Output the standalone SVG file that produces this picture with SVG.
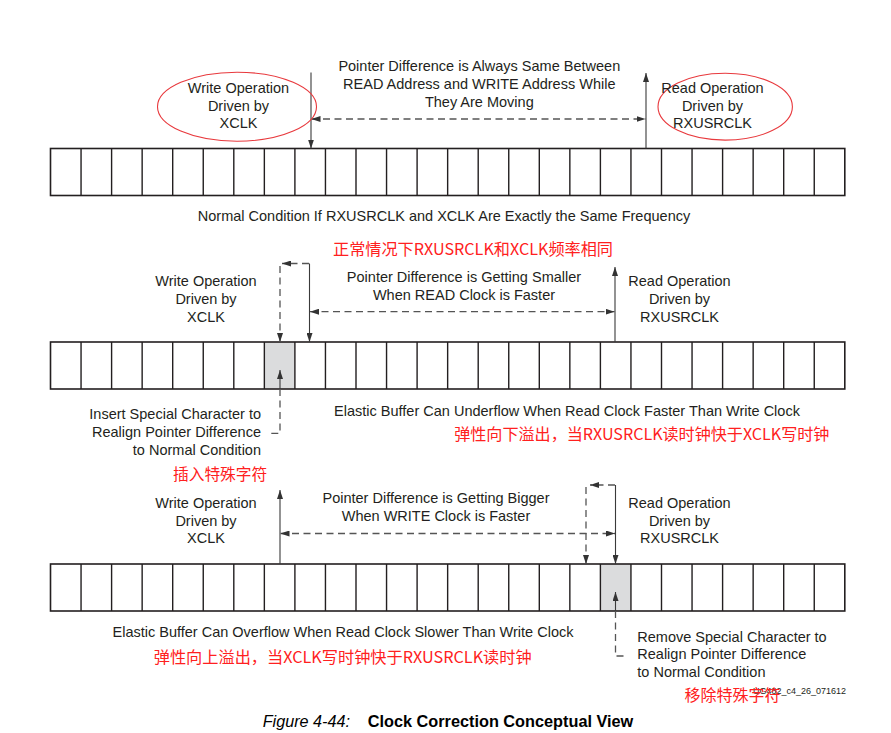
<svg xmlns="http://www.w3.org/2000/svg" xmlns:xlink="http://www.w3.org/1999/xlink" width="891" height="733" viewBox="0 0 891 733">
<style>
.t{font-family:"Liberation Sans",Arial,sans-serif;font-size:14.5px;fill:#231f20}
.m{text-anchor:middle}
.e{text-anchor:end}
.r{font-family:"Noto Sans CJK SC","Noto Sans CJK JP",sans-serif;font-size:16px;fill:#ff2020}
.ln{stroke:#3a3a3a;stroke-width:1.1;fill:none}
.ds{stroke:#555;stroke-width:1.3;fill:none;stroke-dasharray:7 4.5}
.ell{fill:none;stroke:#e8393d;stroke-width:1.1}
.box{fill:none;stroke:#231f20;stroke-width:1.6}
.div{stroke:#231f20;stroke-width:1.4}
.hl{fill:#dbdcdd}
</style>
<defs>
<marker id="ah" viewBox="0 0 9 6" refX="9" refY="3" markerWidth="9" markerHeight="6" orient="auto-start-reverse" markerUnits="userSpaceOnUse"><path d="M0,0 L9,3 L0,6 z" fill="#333"/></marker>
<g id="buf">
<rect class="box" x="50.5" y="0" width="794.3" height="47"/>
<path class="div" d="M81.05,0v47M111.6,0v47M142.15,0v47M172.7,0v47M203.25,0v47M233.8,0v47M264.35,0v47M294.9,0v47M325.45,0v47M356,0v47M386.55,0v47M417.1,0v47M447.65,0v47M478.2,0v47M508.75,0v47M539.3,0v47M569.85,0v47M600.4,0v47M630.95,0v47M661.5,0v47M692.05,0v47M722.6,0v47M753.15,0v47M783.7,0v47M814.25,0v47"/>
</g>
</defs>
<rect width="891" height="733" fill="#fff"/>

<g id="buffer-top"><use xlink:href="#buf" y="148.5"/></g>
<g id="buffer-middle"><rect class="hl" x="264.35" y="342" width="30.55" height="47"/><use xlink:href="#buf" y="342"/></g>
<g id="buffer-bottom"><rect class="hl" x="600.4" y="564" width="30.55" height="47"/><use xlink:href="#buf" y="564"/></g>

<g id="connectors">
<line class="ln" x1="311" y1="72.5" x2="311" y2="148.5" marker-end="url(#ah)"/>
<line class="ln" x1="646" y1="148.5" x2="646" y2="73" marker-end="url(#ah)"/>
<line class="ds" x1="311.5" y1="119" x2="645.5" y2="119" marker-start="url(#ah)" marker-end="url(#ah)"/>
<line class="ln" x1="309.5" y1="263.5" x2="309.5" y2="342" marker-end="url(#ah)"/>
<line class="ds" x1="309" y1="263.5" x2="282" y2="263.5" marker-end="url(#ah)"/>
<line class="ds" x1="280" y1="266" x2="280" y2="342" marker-end="url(#ah)"/>
<line class="ds" x1="310" y1="311.7" x2="614.5" y2="311.7" marker-start="url(#ah)" marker-end="url(#ah)"/>
<line class="ln" x1="615" y1="342" x2="615" y2="267" marker-end="url(#ah)"/>
<line class="ln" x1="280" y1="389" x2="280" y2="370" marker-end="url(#ah)"/>
<path class="ds" d="M280,389 V433.3 H270"/>
<line class="ln" x1="280" y1="564" x2="280" y2="490" marker-end="url(#ah)"/>
<line class="ds" x1="280.5" y1="533.5" x2="615" y2="533.5" marker-start="url(#ah)" marker-end="url(#ah)"/>
<line class="ln" x1="615.5" y1="485" x2="615.5" y2="564" marker-end="url(#ah)"/>
<line class="ds" x1="615" y1="485" x2="590" y2="485" marker-end="url(#ah)"/>
<line class="ds" x1="586" y1="487" x2="586" y2="564" marker-end="url(#ah)"/>
<line class="ln" x1="615.5" y1="611" x2="615.5" y2="592" marker-end="url(#ah)"/>
<path class="ds" d="M615.5,611 V656 H627"/>
</g>

<g id="ellipse-write"><ellipse class="ell" cx="237" cy="106.7" rx="79.5" ry="34.5"/></g>
<g id="ellipse-read"><ellipse class="ell" cx="725.2" cy="106.7" rx="67.2" ry="33.4"/></g>

<g id="labels-top">
<text class="t m" x="479.3" y="71">Pointer Difference is Always Same Between</text>
<text class="t m" x="479.3" y="88.7">READ Address and WRITE Address While</text>
<text class="t m" x="479.3" y="106.5">They Are Moving</text>
<text class="t m" x="238.5" y="93.3">Write Operation</text>
<text class="t m" x="238.5" y="110.8">Driven by</text>
<text class="t m" x="238.5" y="128.2">XCLK</text>
<text class="t m" x="712.5" y="93.3">Read Operation</text>
<text class="t m" x="712.5" y="110.8">Driven by</text>
<text class="t m" x="712.5" y="128.2">RXUSRCLK</text>
<text class="t m" x="444" y="221.3">Normal Condition If RXUSRCLK and XCLK Are Exactly the Same Frequency</text>
<text class="r" x="333" y="255" textLength="280" lengthAdjust="spacingAndGlyphs">正常情况下RXUSRCLK和XCLK频率相同</text>
</g>

<g id="labels-middle">
<text class="t m" x="206" y="285.7">Write Operation</text>
<text class="t m" x="206" y="303.5">Driven by</text>
<text class="t m" x="206" y="321.7">XCLK</text>
<text class="t m" x="464" y="281.7">Pointer Difference is Getting Smaller</text>
<text class="t m" x="464" y="299.5">When READ Clock is Faster</text>
<text class="t m" x="679.5" y="285.7">Read Operation</text>
<text class="t m" x="679.5" y="303.5">Driven by</text>
<text class="t m" x="679.5" y="321.7">RXUSRCLK</text>
<text class="t e" x="261" y="419.3">Insert Special Character to</text>
<text class="t e" x="261" y="437.3">Realign Pointer Difference</text>
<text class="t e" x="261" y="455.3">to Normal Condition</text>
<text class="t m" x="567" y="415.7">Elastic Buffer Can Underflow When Read Clock Faster Than Write Clock</text>
<text class="r" x="454.2" y="440.3" textLength="375.2" lengthAdjust="spacingAndGlyphs">弹性向下溢出，当RXUSRCLK读时钟快于XCLK写时钟</text>
<text class="r" x="173" y="480.3" textLength="94.2" lengthAdjust="spacingAndGlyphs">插入特殊字符</text>
</g>

<g id="labels-bottom">
<text class="t m" x="206" y="507.7">Write Operation</text>
<text class="t m" x="206" y="525.5">Driven by</text>
<text class="t m" x="206" y="543.2">XCLK</text>
<text class="t m" x="436" y="503.3">Pointer Difference is Getting Bigger</text>
<text class="t m" x="436" y="520.5">When WRITE Clock is Faster</text>
<text class="t m" x="679.5" y="507.7">Read Operation</text>
<text class="t m" x="679.5" y="525.5">Driven by</text>
<text class="t m" x="679.5" y="543.2">RXUSRCLK</text>
<text class="t m" x="343" y="636.7">Elastic Buffer Can Overflow When Read Clock Slower Than Write Clock</text>
<text class="r" x="153.7" y="663.3" textLength="378" lengthAdjust="spacingAndGlyphs">弹性向上溢出，当XCLK写时钟快于RXUSRCLK读时钟</text>
<text class="t" x="637.3" y="641.7">Remove Special Character to</text>
<text class="t" x="637.3" y="659.2">Realign Pointer Difference</text>
<text class="t" x="637.3" y="676.9">to Normal Condition</text>
<text x="753" y="693.5" style="font-family:'Liberation Sans',Arial,sans-serif;font-size:9px;fill:#231f20" textLength="93" lengthAdjust="spacingAndGlyphs">UG482_c4_26_071612</text>
<text class="r" x="684.5" y="700.5" textLength="96" lengthAdjust="spacingAndGlyphs">移除特殊字符</text>
</g>

<g id="caption">
<text x="262.7" y="726.7" style="font-family:'Liberation Sans',Arial,sans-serif;font-size:16px;font-style:italic;fill:#000" textLength="87.3" lengthAdjust="spacingAndGlyphs">Figure 4-44:</text>
<text x="367.7" y="726.7" style="font-family:'Liberation Sans',Arial,sans-serif;font-size:16.2px;font-weight:bold;fill:#000" textLength="265.6" lengthAdjust="spacingAndGlyphs">Clock Correction Conceptual View</text>
</g>
</svg>
